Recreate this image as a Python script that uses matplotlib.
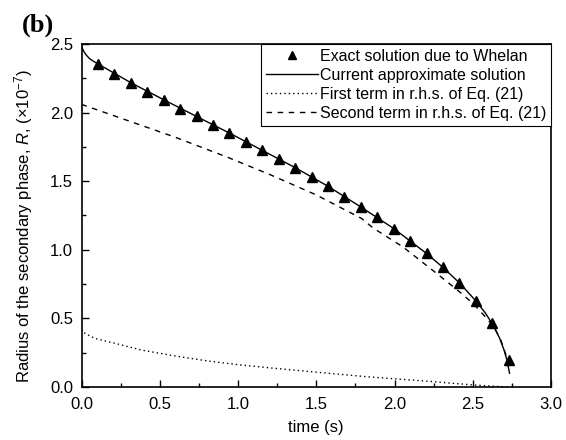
import matplotlib
matplotlib.use("Agg")
import matplotlib.pyplot as plt
from matplotlib.ticker import MultipleLocator

plt.rcParams["font.family"] = ["Liberation Sans", "DejaVu Sans"]
plt.rcParams["mathtext.fontset"] = "custom"
plt.rcParams["mathtext.rm"] = "Liberation Sans"
plt.rcParams["mathtext.it"] = "Liberation Sans:italic"

# exact solution (Whelan), R in units of 1e-7
exact_t = [0.105, 0.21, 0.315, 0.42, 0.525, 0.63, 0.735, 0.84, 0.945, 1.05,
           1.155, 1.26, 1.365, 1.47, 1.575, 1.68, 1.785, 1.89, 1.995, 2.10,
           2.205, 2.31, 2.415, 2.52, 2.625, 2.73]
exact_r = [2.356, 2.283, 2.218, 2.149, 2.094, 2.028, 1.972, 1.912, 1.851, 1.785,
           1.725, 1.664, 1.599, 1.531, 1.463, 1.385, 1.312, 1.239, 1.155, 1.065,
           0.973, 0.871, 0.759, 0.627, 0.464, 0.197]

# current approximate solution
approx_t = [0.0, 0.005, 0.015, 0.03, 0.05, 0.075, 0.105, 0.315, 0.525, 0.735,
            0.945, 1.155, 1.365, 1.575, 1.785, 1.995, 2.205, 2.31, 2.415, 2.52,
            2.58, 2.625, 2.67, 2.70, 2.72, 2.735]
approx_r = [2.50, 2.47, 2.445, 2.42, 2.395, 2.375, 2.355, 2.218, 2.094, 1.972,
            1.851, 1.725, 1.599, 1.463, 1.312, 1.155, 0.973, 0.871, 0.759, 0.627,
            0.54, 0.46, 0.36, 0.27, 0.19, 0.10]

# first term in r.h.s. of Eq. (21)
first_t = [0.0, 0.01, 0.04, 0.086, 0.214, 0.384, 0.597, 0.81, 1.02, 1.235,
           1.47, 1.82, 2.245, 2.50, 2.69, 2.73]
first_r = [0.42, 0.40, 0.38, 0.354, 0.318, 0.269, 0.226, 0.189, 0.160, 0.136,
           0.111, 0.075, 0.039, 0.015, 0.002, 0.0]

# second term in r.h.s. of Eq. (21)
second_t = [0.0, 0.3, 0.6, 0.93, 1.2, 1.5, 1.79, 1.863, 2.054, 2.27, 2.415,
            2.50, 2.59, 2.64, 2.68, 2.71, 2.73]
second_r = [2.06, 1.94, 1.82, 1.676, 1.55, 1.40, 1.228, 1.159, 1.021, 0.827,
            0.694, 0.61, 0.50, 0.43, 0.34, 0.24, 0.12]

fig = plt.figure(figsize=(5.66, 4.40), dpi=100)
ax = fig.add_axes([0.144, 0.1205, 0.8295, 0.7795])

ax.plot(exact_t, exact_r, linestyle="none", marker="^", markersize=7,
        color="black", label="Exact solution due to Whelan")
ax.plot(approx_t, approx_r, color="black", linewidth=1.0,
        label="Current approximate solution")
ax.plot(first_t, first_r, color="black", linewidth=1.0,
        linestyle=(0, (1, 2.2)), label="First term in r.h.s. of Eq. (21)")
ax.plot(second_t, second_r, color="black", linewidth=1.0,
        linestyle=(0, (4, 4)), label="Second term in r.h.s. of Eq. (21)")

ax.set_xlim(0, 3.0)
ax.set_ylim(0, 2.5)
ax.xaxis.set_major_locator(MultipleLocator(0.5))
ax.xaxis.set_minor_locator(MultipleLocator(0.25))
ax.yaxis.set_major_locator(MultipleLocator(0.5))
ax.yaxis.set_minor_locator(MultipleLocator(0.25))
ax.xaxis.set_major_formatter(lambda v, p: f"{v:.1f}")
ax.yaxis.set_major_formatter(lambda v, p: f"{v:.1f}")
ax.tick_params(which="both", direction="in", top=False, right=False,
               labelsize=12, width=1.0)
ax.tick_params(which="major", length=5)
ax.tick_params(which="minor", length=3)
ax.tick_params(axis="x", which="major", pad=7)
ax.tick_params(axis="y", which="major", pad=6)
for s in ax.spines.values():
    s.set_linewidth(1.2)

ax.set_xlabel("time (s)", fontsize=12, labelpad=6)
ax.set_ylabel("Radius of the secondary phase, $R$, ($\\times$10$^{-7}$)",
              fontsize=12)
ax.yaxis.set_label_coords(-0.10, 0.47)

leg = ax.legend(loc="upper right", borderaxespad=0, fontsize=11.5,
                handlelength=3.3, handletextpad=0.1, labelspacing=0.25,
                borderpad=0.3, fancybox=False, framealpha=1,
                edgecolor="black", markerscale=0.85)
leg.get_frame().set_linewidth(0.8)

fig.text(0.038, 0.943, "(b)", fontsize=19, fontweight="bold",
         family="Liberation Serif", va="center", ha="left")

fig.savefig("out.png", dpi=100)
